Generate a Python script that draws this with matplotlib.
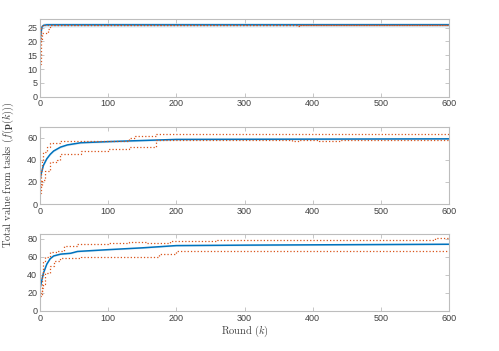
import numpy as np
import matplotlib.pyplot as plt

plt.rcParams['font.family'] = 'Liberation Sans'
plt.rcParams['mathtext.fontset'] = 'cm'

# round index / values read off the reference
# panel 1
k1_mean = [0, 1, 2, 3, 5, 10, 600]
v1_mean = [17.5, 22, 24, 25.3, 25.8, 26, 26]
k1_hi = [0, 1, 2, 3, 600]
v1_hi = [20, 23, 25, 26, 26]
k1_lo = [0, 1, 2, 3, 10, 12, 14, 378, 380, 600]
v1_lo = [12, 16, 20, 23, 23, 24.5, 26, 25.4, 26, 26]

# panel 2
k2_mean = [0, 2, 5, 10, 15, 20, 30, 40, 60, 100, 150, 200, 600]
v2_mean = [22, 28, 35, 41, 45, 48, 51.5, 53.5, 55.5, 56.5, 57.5, 58.5, 59]
k2_hi = [0, 1, 3, 5, 10, 15, 30, 60, 130, 140, 170, 600]
v2_hi = [15, 30, 40, 47, 52, 55, 57, 57.5, 60, 61.5, 63.5, 63.5]
k2_lo = [0, 1, 3, 8, 15, 25, 30, 60, 100, 130, 170, 370, 380, 410, 430, 440, 600]
v2_lo = [10, 16, 22, 30, 38, 40, 45, 48, 50, 52, 58, 57, 58, 57, 57.5, 58, 58]

# panel 3
k3_mean = [0, 5, 10, 15, 20, 30, 45, 55, 100, 150, 200, 300, 600]
v3_mean = [25, 42, 52, 58, 61, 63, 64, 66, 68, 70, 72.5, 73, 74]
k3_hi = [0, 3, 5, 8, 15, 25, 35, 55, 100, 130, 155, 190, 260, 580, 600]
v3_hi = [20, 40, 55, 60, 65, 67, 72, 74, 75, 76, 75.5, 78, 79, 81, 81]
k3_lo = [0, 3, 5, 8, 15, 20, 30, 60, 140, 175, 200, 600]
v3_lo = [17, 25, 30, 42, 50, 55, 59, 60, 59.5, 63, 66, 66]

panels = [
    (k1_mean, v1_mean, k1_hi, v1_hi, k1_lo, v1_lo, 28, [0, 5, 10, 15, 20, 25]),
    (k2_mean, v2_mean, k2_hi, v2_hi, k2_lo, v2_lo, 70, [0, 20, 40, 60]),
    (k3_mean, v3_mean, k3_hi, v3_hi, k3_lo, v3_lo, 85, [0, 20, 40, 60, 80]),
]

blue = '#0072BD'
orange = '#D95319'
grey = '#BDBDBD'

fig = plt.figure(figsize=(4.99, 3.51), dpi=100)
bottoms = [1 - 96.7 / 351, 1 - 204 / 351, 1 - 311 / 351]
heights = [(96.7 - 19.3) / 351, (204 - 126.7) / 351, (311 - 234.3) / 351]

for (km, vm, kh, vh, kl, vl, ytop, yt), b, h in zip(panels, bottoms, heights):
    ax = fig.add_axes([40 / 499, b, (449 - 40) / 499, h])
    ax.fill_between(km, np.array(vm) - 0.8, np.array(vm) + 0.8, color=blue, alpha=0.15, lw=0)
    ax.plot(km, vm, color=blue, lw=1.1)
    ax.plot(kh, vh, color=orange, lw=0.9, ls=':', drawstyle='steps-post')
    ax.plot(kl, vl, color=orange, lw=0.9, ls=':', drawstyle='steps-post')
    ax.set_xlim(0, 600)
    ax.set_ylim(0, ytop)
    ax.set_xticks(range(0, 601, 100))
    ax.set_yticks(yt)
    ax.tick_params(direction='in', length=3, width=0.6, top=True, right=True,
                   labelsize=6.5, colors='#404040', pad=2)
    ax.tick_params(axis='both', color=grey)
    for s in ax.spines.values():
        s.set_color(grey)
        s.set_linewidth(0.8)

fig.text(8 / 499, 1 - 175 / 351,
         r'$\mathrm{Total\ value\ from\ tasks\ }(f(\mathbf{p}(k)))$',
         rotation=90, ha='center', va='center', fontsize=7.5, color='#404040')
fig.text(245 / 499, 1 - 331 / 351, r'$\mathrm{Round\ }(k)$',
         ha='center', va='center', fontsize=7.5, color='#404040')

fig.savefig('out.png', dpi=100)
